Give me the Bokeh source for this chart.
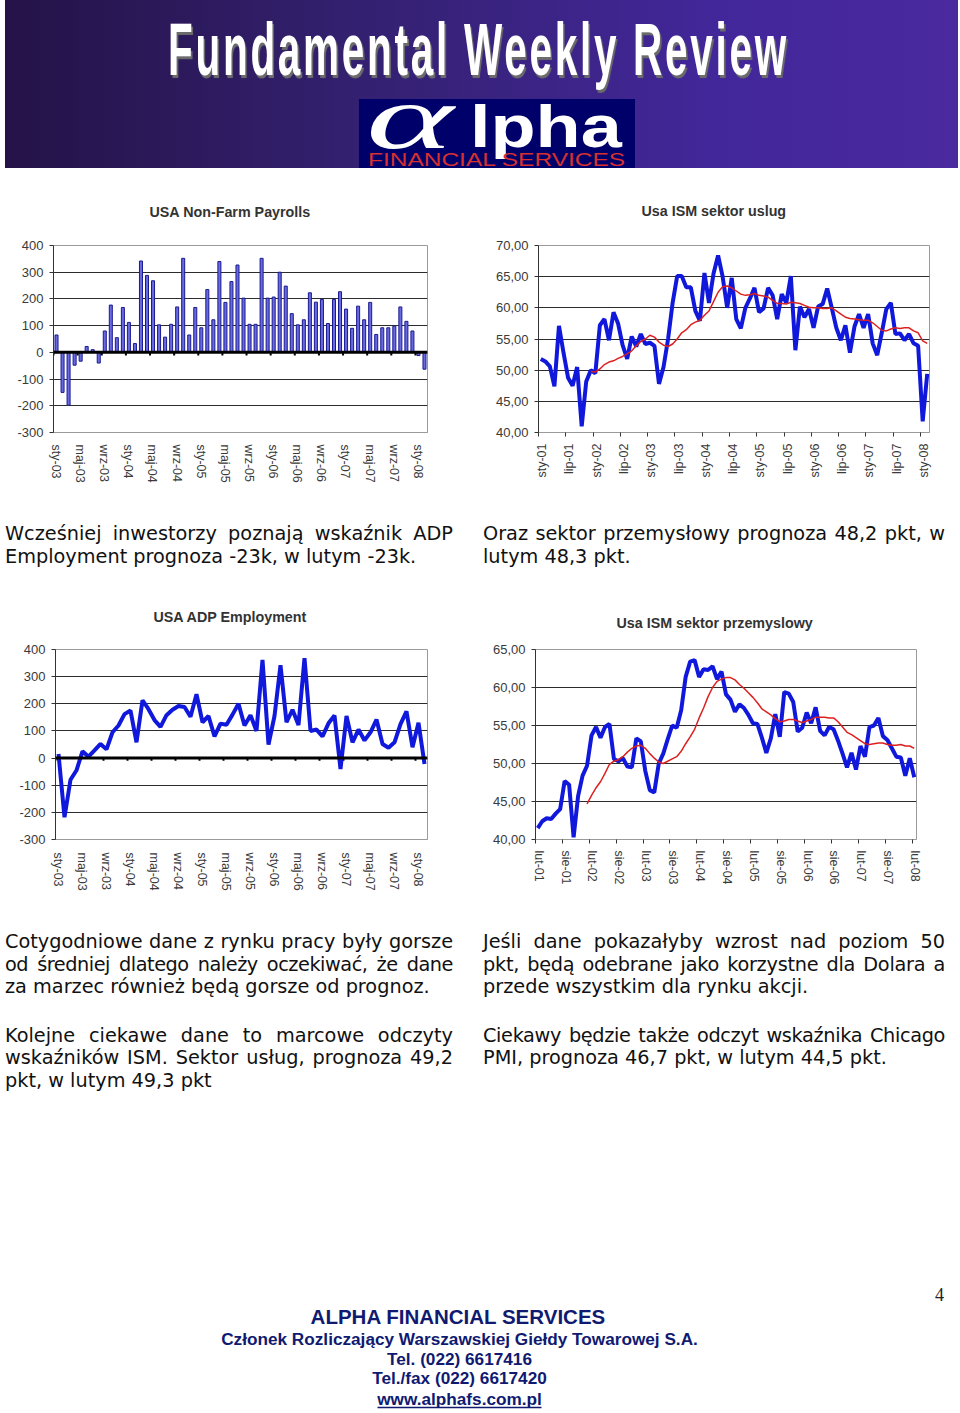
from bokeh.plotting import figure
from bokeh.layouts import column, row
from bokeh.models import Range1d, FixedTicker, Div, Span, LinearAxis, Title
from bokeh.core.properties import value
from bokeh.embed import file_html
from bokeh.resources import INLINE
import math

nfp = [65,-150,-198,-48,-33,22,10,-40,80,177,55,168,112,33,342,288,268,103,57,105,170,352,65,168,92,235,122,340,187,265,327,203,105,105,352,203,207,300,248,145,103,122,223,188,198,108,198,227,162,90,173,122,187,67,92,92,98,170,116,80,-12,-63]
adp = [15,-218,-80,-45,25,5,28,52,32,95,120,162,175,58,213,180,140,115,158,178,192,188,152,235,132,155,80,127,123,160,200,120,158,100,362,50,155,342,132,178,122,368,100,105,80,128,157,-40,155,58,105,65,95,142,52,38,58,125,172,40,130,-22]
ism_s = [51.8,51.4,50.6,47.4,57.1,52.8,48.8,47.5,50.5,41,48.2,50.0,49.5,57.2,58.2,54.8,59.3,57.5,54,51.8,55.4,53.8,55.8,54.2,54.4,53.9,47.8,50.5,55,60.8,65.1,65.1,63.3,63.3,59.5,57.9,65.6,60.8,65.5,68.4,65,60,64.8,58.2,56.7,60,61.5,63.2,59.3,59.9,63.2,62,58.2,62.2,60.8,65.1,53.2,60.2,58.5,59.8,56.8,60.2,60.6,63.1,60,56.8,54.8,57.2,52.8,57,59,56.8,59,54.3,52.4,56,59.8,60.8,55.8,55.9,54.8,55.8,54.3,53.9,41.8,49.4]
ism_s_ma = [49.8,49.7,50.2,50.9,51.3,51.5,51.9,52.2,52.6,53.1,53.9,54.6,55.0,55.6,55.3,54.5,54,53.8,54.2,55,56,56.5,57.3,57.7,58,58.8,59.5,61,62.5,63.4,63.5,63.2,62.7,62.2,62,62.1,62.3,62,61.9,61.7,61.2,60.7,60.7,60.6,60.9,60.8,60.7,60.4,60.1,60,60,59.9,59.9,60,59.5,59,58.5,58.3,58.2,58.1,58,58,57.6,57,56.4,56.3,56.6,56.8,56.7,56.8,56.8,56.3,56,54.7,54.3]
ism_m = [41.5,42.4,42.8,42.7,43.4,44.0,47.7,47.2,40.3,45.7,48.4,49.7,53.7,54.8,53.4,54.8,55.2,50.6,50.3,50.7,49.6,49.5,53.3,52.9,49,46.5,46.2,50,51.3,53.2,55,54.7,57,61.4,63.4,63.6,61.4,62.4,62.3,62.8,61.1,62.1,59.1,58.4,56.8,57.8,57.3,56.4,55.3,55.2,53.4,51.4,53.3,56.5,53.5,59.4,59.2,58.1,54.2,54.7,56.7,55.3,57.4,54.3,53.7,54.8,54.5,53,51.3,49.5,51.4,49.2,52.3,50.9,54.8,55,56,53.6,53.1,52,50.9,50.8,48.4,50.7,48.2]
ism_m_ma = [44.7,45.8,46.8,47.6,48.7,49.9,50.3,50.5,50.9,51.5,52,52.3,52.4,52,51.3,50.7,50.2,50,50.3,50.6,50.9,51.6,52.6,53.5,54.5,56,57.3,58.8,60,60.8,61.1,61.3,61.3,61,60.4,59.9,59.3,58.7,58,57.2,56.8,56.4,55.9,55.5,55.6,55.8,55.8,55.6,55.4,55.6,55.8,56.1,56.1,56.1,56,56,55.5,54.8,54.1,53.8,53.4,53,52.6,52.5,52.6,52.7,52.7,52.5,52.4,52.4,52.5,52.3,52.3,52]
labels_4m = ["sty-03","maj-03","wrz-03","sty-04","maj-04","wrz-04","sty-05","maj-05","wrz-05","sty-06","maj-06","wrz-06","sty-07","maj-07","wrz-07","sty-08"]
labels_6s = ["sty-01","lip-01","sty-02","lip-02","sty-03","lip-03","sty-04","lip-04","sty-05","lip-05","sty-06","lip-06","sty-07","lip-07","sty-08"]
labels_6m = ["lut-01","sie-01","lut-02","sie-02","lut-03","sie-03","lut-04","sie-04","lut-05","sie-05","lut-06","sie-06","lut-07","sie-07","lut-08"]
left1 = [("Wcześniej inwestorzy poznają wskaźnik ADP", 0, True), ("Employment prognoza -23k, w lutym -23k.", 0, False)]
right1 = [("Oraz sektor przemysłowy prognoza 48,2 pkt, w", 0, True), ("lutym 48,3 pkt.", 0, False)]
left2a = [("Cotygodniowe dane z rynku pracy były gorsze", 0, True), ("od średniej dlatego należy oczekiwać, że dane", -0.45, True), ("za marzec również będą gorsze od prognoz.", 0, False)]
left2b = [("Kolejne ciekawe dane to marcowe odczyty", 0, True), ("wskaźników ISM. Sektor usług, prognoza 49,2", 0, True), ("pkt, w lutym 49,3 pkt", 0, False)]
right2a = [("Jeśli dane pokazałyby wzrost nad poziom 50", 0, True), ("pkt, będą odebrane jako korzystne dla Dolara a", -0.25, True), ("przede wszystkim dla rynku akcji.", 0, False)]
right2b = [("Ciekawy będzie także odczyt wskaźnika Chicago", -0.35, True), ("PMI, prognoza 46,7 pkt, w lutym 44,5 pkt.", 0, False)]
footer_lines = ["ALPHA FINANCIAL SERVICES","Członek Rozliczający Warszawskiej Giełdy Towarowej S.A.","Tel. (022) 6617416","Tel./fax (022) 6617420","www.alphafs.com.pl"]

BLUE = "#1018dc"
RED = "#dc2020"
TXT = "#3a3a3a"


def chart(title, w, h, l, r, t, b, n, ys, yticks, yfmt, xlabels, step, orient, offset, standoff, ticks=True, shift=0.5, label_gap=5):
    p = figure(width=w, height=h, x_range=Range1d(0, n), y_range=Range1d(ys[0], ys[1]),
               output_backend="svg", toolbar_location=None,
               min_border_left=l, min_border_right=r, min_border_top=t, min_border_bottom=b)
    p.title = Title(text=title, align="left", vertical_align="top", text_font="Liberation Sans", text_font_style="bold",
                    text_font_size="14.3px", text_color="#333333", offset=offset, standoff=standoff)
    p.background_fill_color = "white"
    p.border_fill_color = "white"
    p.outline_line_color = "#9a9a9a"
    p.outline_line_width = 1
    p.xgrid.visible = False
    p.ygrid.ticker = FixedTicker(ticks=yticks)
    p.ygrid.grid_line_color = "#2c2c2c"
    p.ygrid.grid_line_width = 1
    p.yaxis.ticker = FixedTicker(ticks=yticks)
    p.yaxis.major_label_overrides = {v: yfmt(v) for v in yticks}
    p.yaxis.major_label_text_font = "Liberation Sans"
    p.yaxis.major_label_text_font_size = "13px"
    p.yaxis.major_label_text_color = TXT
    p.yaxis.axis_line_color = "#333333"
    p.yaxis.major_tick_line_color = "#333333"
    p.yaxis.major_tick_out = 4
    p.yaxis.major_tick_in = 0
    p.yaxis.minor_tick_line_color = None
    p.yaxis.major_label_standoff = 6
    # tick marks sit on the category edges, the labels a little to the right of them
    xt = [i * step for i in range(len(xlabels))]
    a = p.below[0]
    a.ticker = FixedTicker(ticks=xt)
    a.major_label_overrides = {v: "" for v in xt}
    a.major_label_text_font_size = "1px"
    a.major_label_standoff = 0
    a.minor_tick_line_color = None
    a.axis_line_color = "#9a9a9a"
    a.major_tick_line_color = "#333333" if ticks else None
    a.major_tick_out = 4 if ticks else 0
    a.major_tick_in = 0
    xl = [v + shift for v in xt]
    b_ax = LinearAxis(ticker=FixedTicker(ticks=xl), major_label_overrides={v: s for v, s in zip(xl, xlabels)},
                      major_label_orientation=orient, major_label_text_font="Liberation Sans",
                      major_label_text_font_size="12.5px", major_label_text_color=TXT,
                      axis_line_color=None, major_tick_line_color=None, minor_tick_line_color=None,
                      major_tick_out=0, major_tick_in=0, major_label_standoff=label_gap)
    p.add_layout(b_ax, "below")
    return p


def zero_marks(p, xlabels, step, depth):
    # the category axis of these two charts crosses at zero
    xt = [i * step for i in range(len(xlabels))]
    p.segment(x0=xt, y0=[0] * len(xt), x1=xt, y1=[-depth] * len(xt), line_color="black", line_width=2)
    p.add_layout(Span(location=0, dimension="width", line_color="black", line_width=3))


int_fmt = lambda v: str(v)
dec_fmt = lambda v: f"{v},00"

# ---- header
hdr_html = """
<div style="position:absolute;left:0;top:0;width:960px;height:172px;overflow:hidden;">
 <div style="position:absolute;left:5px;top:0;width:953px;height:168px;background:linear-gradient(90deg,#241248 0%,#33206e 35%,#42279a 75%,#4a2a9e 100%);"></div>
 <div style="position:absolute;left:168px;top:8px;white-space:nowrap;font-family:'Liberation Sans';font-weight:bold;font-size:74px;line-height:84px;letter-spacing:5px;color:white;text-shadow:3px 3px 1px #6c6c6c;transform-origin:0 0;transform:scaleX(0.547);">Fundamental Weekly Review</div>
 <div style="position:absolute;left:359px;top:99px;width:276px;height:69px;background:#00006a;"></div>
 <div style="position:absolute;left:366px;top:100px;white-space:nowrap;font-family:'Liberation Serif';font-style:italic;font-size:90px;line-height:36px;color:white;transform-origin:0 0;transform:scaleX(1.85);">α</div>
 <div style="position:absolute;left:470px;top:102px;white-space:nowrap;font-family:'Liberation Sans';font-weight:bold;font-size:60px;line-height:50px;color:white;transform-origin:0 0;transform:scaleX(1.23);">lpha</div>
 <div style="position:absolute;left:368px;top:152.5px;white-space:nowrap;font-family:'Liberation Sans';font-size:18px;line-height:14px;color:#d83030;transform-origin:0 0;transform:scaleX(1.36);">FINANCIAL SERVICES</div>
</div>"""
hdr = Div(text=hdr_html, width=960, height=172, margin=0)

# ---- charts
c_nfp = chart("USA Non-Farm Payrolls", 480, 328, 53, 53, 71, 66, len(nfp), (-300, 400), list(range(-300, 401, 100)), int_fmt,
              labels_4m, 4, -math.pi / 2, 96, 48, ticks=False, shift=0.4, label_gap=12)
c_nfp.vbar(x=[i + 0.5 for i in range(len(nfp))], top=nfp, bottom=0, width=0.5, fill_color="#6a6ae0", line_color="#1a1a90", line_width=1)
zero_marks(c_nfp, labels_4m, 4, 12)

c_ss = chart("Usa ISM sektor uslug", 480, 328, 58, 31, 73, 68, len(ism_s), (40, 70), list(range(40, 71, 5)), dec_fmt,
             labels_6s, 6, math.pi / 2, 103, 49, shift=0.8, label_gap=7)
c_ss.line(x=[i + 0.5 for i in range(len(ism_s))], y=ism_s, line_color=BLUE, line_width=4)
c_ss.line(x=[i + 11.5 for i in range(len(ism_s_ma))], y=ism_s_ma, line_color=RED, line_width=1.5)

c_adp = chart("USA ADP Employment", 480, 315, 55, 53, 64, 56, len(adp), (-300, 400), list(range(-300, 401, 100)), int_fmt,
              labels_4m, 4, -math.pi / 2, 98, 45, ticks=False, shift=0.4, label_gap=13)
zero_marks(c_adp, labels_4m, 4, 10)
c_adp.line(x=[i + 0.5 for i in range(len(adp))], y=adp, line_color=BLUE, line_width=4)

c_sm = chart("Usa ISM sektor przemyslowy", 480, 315, 55, 44, 51, 61, len(ism_m), (40, 65), list(range(40, 66, 5)), dec_fmt,
             labels_6m, 6, -math.pi / 2, 81, 34, shift=0.7, label_gap=7)
c_sm.line(x=[i + 0.5 for i in range(len(ism_m))], y=ism_m, line_color=BLUE, line_width=4)
c_sm.line(x=[i + 11.5 for i in range(len(ism_m_ma))], y=ism_m_ma, line_color=RED, line_width=1.5)


def para(lines):
    out = []
    for text, ls, just in lines:
        align = "justify" if just else "left"
        out.append(f'<div style="white-space:nowrap;text-align:{align};text-align-last:{align};letter-spacing:{ls}px;">{text}</div>')
    return "".join(out)


def block(left, width, top, h, paras):
    body = '<div style="height:25.5px"></div>'.join(para(q) for q in paras)
    html = (f'<div style="position:absolute;left:{left}px;top:{top}px;width:{width}px;font-family:\'DejaVu Sans\';'
            f'font-size:19.3px;line-height:22.7px;color:#111;">{body}</div>')
    return Div(text=html, width=480, height=h, margin=0)


t1 = row(block(5, 448, 23, 85, [left1]), block(3, 462, 23, 85, [right1]), spacing=0)
t2 = row(block(5, 448, 31, 200, [left2a, left2b]), block(3, 462, 31, 200, [right2a, right2b]), spacing=0)

# ---- footer
ftr = figure(width=960, height=313, x_range=Range1d(0, 960), y_range=Range1d(1413, 1100),
             output_backend="svg", toolbar_location=None, min_border=0)
ftr.axis.visible = False
ftr.grid.visible = False
ftr.outline_line_color = None
NAVY = "#101a70"
FF = value("Liberation Sans")
ftr.text(x=[458], y=[1316], text=[footer_lines[0]], text_font=FF, text_font_style="bold", text_font_size="20.5px",
         text_color=NAVY, text_align="center", text_baseline="middle")
ftr.text(x=[459, 459, 459, 459], y=[1338, 1358, 1377, 1398], text=footer_lines[1:], text_font=FF, text_font_style="bold",
         text_font_size="17.2px", text_color=NAVY, text_align="center", text_baseline="middle")
ftr.segment(x0=[377], x1=[541], y0=[1407], y1=[1407], line_color=NAVY, line_width=1.5)
ftr.text(x=[939], y=[1294], text=["4"], text_font=value("Liberation Serif"), text_font_size="18px", text_color="#222222",
         text_align="center", text_baseline="middle")

page = column(hdr, row(c_nfp, c_ss, spacing=0), t1, row(c_adp, c_sm, spacing=0), t2, ftr, spacing=0)
open("out.html", "w").write(file_html(page, INLINE))
